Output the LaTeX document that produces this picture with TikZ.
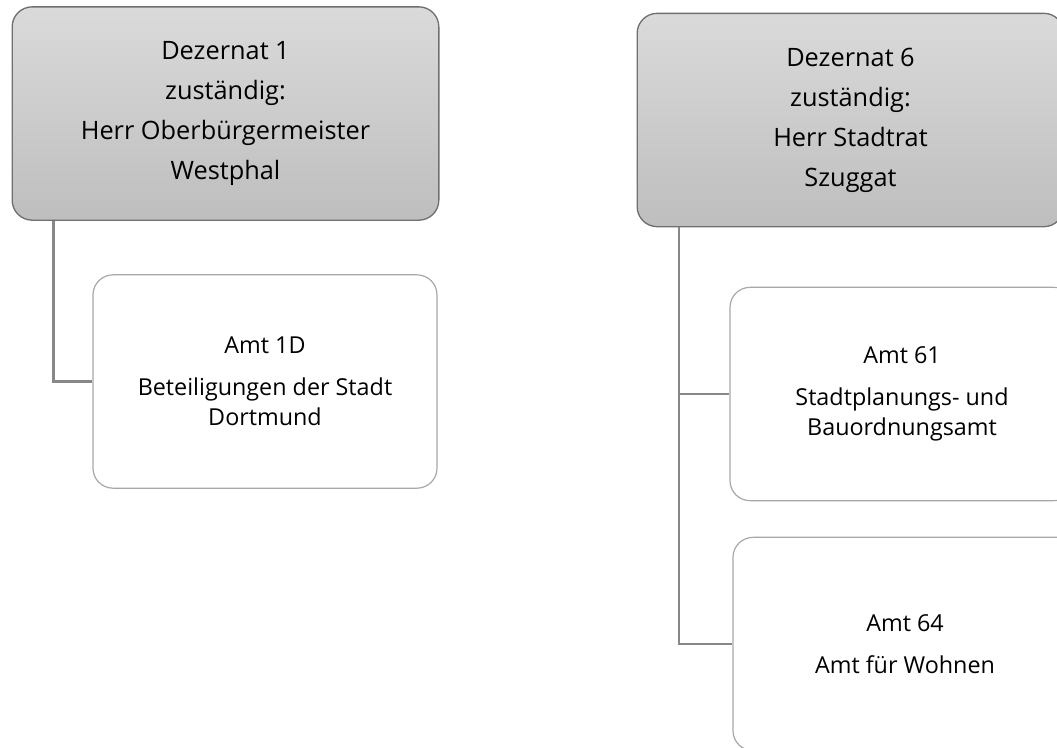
\documentclass[tikz,border=0pt]{standalone}
\usepackage{fontspec}
\setmainfont{Open Sans}

\definecolor{boxtop}{RGB}{218,218,218}
\definecolor{boxbot}{RGB}{190,190,190}
\definecolor{boxline}{RGB}{112,112,112}
\definecolor{amtline}{RGB}{168,168,168}
\definecolor{linkgray}{RGB}{135,135,135}

\begin{document}
\begin{tikzpicture}[x=0.75pt,y=-0.75pt,
    dezernat/.style={rectangle,rounded corners=15pt,draw=boxline,line width=1pt,
        top color=boxtop,bottom color=boxbot,align=center,
        minimum width=320pt,minimum height=160pt,inner sep=0pt,
        font=\fontsize{19}{30}\selectfont},
    amt/.style={rectangle,rounded corners=15pt,draw=amtline,line width=0.9pt,
        fill=white,align=center,minimum width=258pt,minimum height=160pt,inner sep=0pt,
        font=\fontsize{17.5}{22.5}\selectfont},
    link/.style={draw=linkgray,line width=1.6pt}]
                    \useasboundingbox (0,0) rectangle (1057,747);
                    \clip (0,0) rectangle (1057,747);
                    \path
                    (225.5,113.5) node[dezernat](dez1) {Dezernat 1\\zuständig:\\Herr Oberbürgermeister\\Westphal}
                    (265,381.5) node[amt](amt1d) {Amt 1D\\[9pt]Beteiligungen der Stadt\\Dortmund}
                    (850.5,120) node[dezernat](dez6) {Dezernat 6\\zuständig:\\Herr Stadtrat\\Szuggat}
                    (902,394) node[amt](amt61) {Amt 61\\[9pt]Stadtplanungs- und\\Bauordnungsamt}
                    (905,644) node[amt](amt64) {Amt 64\\[9pt]Amt für Wohnen};

                    \draw[link] ([xshift=31.5pt]dez1.south west) |- (amt1d.west);
                    \draw[link] ([xshift=32pt]dez6.south west) |- (amt61.west);
                    \draw[link] ([xshift=32pt]dez6.south west) |- (amt64.west);
                \end{tikzpicture}
\end{document}
